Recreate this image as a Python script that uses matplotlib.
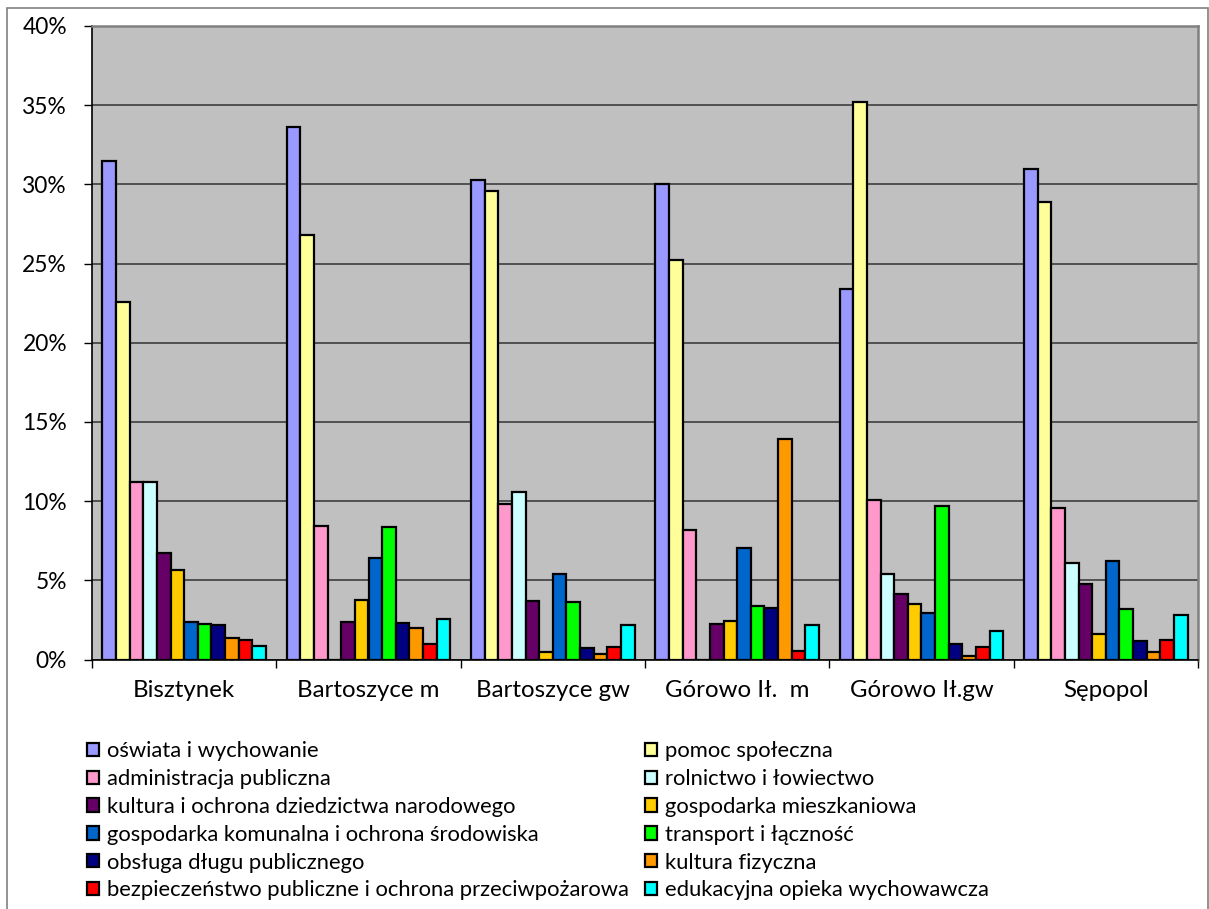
import numpy as np
import matplotlib.pyplot as plt
from matplotlib.patches import Rectangle
from matplotlib.ticker import FuncFormatter

plt.rcParams['font.family'] = ['Lato', 'DejaVu Sans']

gminy = ["Bisztynek", "Bartoszyce m", "Bartoszyce gw", "Górowo Ił.  m", "Górowo Ił.gw", "Sępopol"]

dzialy = ["oświata i wychowanie", "pomoc społeczna",
          "administracja publiczna", "rolnictwo i łowiectwo",
          "kultura i ochrona dziedzictwa narodowego", "gospodarka mieszkaniowa",
          "gospodarka komunalna i ochrona środowiska", "transport i łączność",
          "obsługa długu publicznego", "kultura fizyczna",
          "bezpieczeństwo publiczne i ochrona przeciwpożarowa", "edukacyjna opieka wychowawcza"]

# udział w wydatkach [%], kolejno dla gmin
oswiata      = [31.5, 33.6, 30.3, 30.0, 23.4, 31.0]
pomoc        = [22.6, 26.8, 29.6, 25.2, 35.2, 28.9]
administr    = [11.2, 8.45, 9.8, 8.15, 10.05, 9.55]
rolnictwo    = [11.2, 0.0, 10.6, 0.0, 5.4, 6.1]
kultura      = [6.7, 2.35, 3.7, 2.25, 4.15, 4.75]
mieszkaniowa = [5.65, 3.75, 0.5, 2.4, 3.5, 1.6]
komunalna    = [2.35, 6.4, 5.4, 7.05, 2.95, 6.2]
transport    = [2.25, 8.35, 3.65, 3.4, 9.7, 3.2]
dlug         = [2.15, 2.3, 0.75, 3.25, 0.95, 1.15]
kult_fiz     = [1.35, 2.0, 0.35, 13.9, 0.25, 0.5]
bezpiecz     = [1.2, 1.0, 0.8, 0.55, 0.8, 1.25]
edukacyjna   = [0.85, 2.55, 2.2, 2.15, 1.8, 2.8]

serie = [oswiata, pomoc, administr, rolnictwo, kultura, mieszkaniowa,
         komunalna, transport, dlug, kult_fiz, bezpiecz, edukacyjna]

kolory = ["#9999FF", "#FFFF99", "#FF99CC", "#CCFFFF", "#660066", "#FFCC00",
          "#0066CC", "#00FF00", "#000080", "#FF9900", "#FF0000", "#00FFFF"]

W, H = 1209, 909
fig = plt.figure(figsize=(W / 100, H / 100), dpi=100)
ax = fig.add_axes([92 / W, 1 - 659.5 / H, (1198 - 92) / W, (659.5 - 26) / H])
ax.set_facecolor("#C0C0C0")

n = len(serie)
w = 1 / (n + 1.5)
x = np.arange(len(gminy))
for k, (vals, c) in enumerate(zip(serie, kolory)):
    pos = x + 0.75 * w + k * w + w / 2
    ax.bar(pos, vals, width=w, color=c, edgecolor="black", linewidth=1.6,
           label=dzialy[k], zorder=3)

ax.set_xlim(0, len(gminy))
ax.set_ylim(0, 40)
ax.set_yticks(np.arange(0, 41, 5))
ax.yaxis.set_major_formatter(FuncFormatter(lambda v, p: "%d%%" % v))
ax.grid(axis="y", color="#333333", linewidth=1.1, zorder=1)

ax.set_xticks(np.arange(len(gminy) + 1))
ax.set_xticklabels([])
ax.set_xticks(x + 0.5, minor=True)
ax.set_xticklabels(gminy, minor=True)
ax.tick_params(axis="x", which="major", length=6, width=1, color="black")
ax.tick_params(axis="x", which="minor", length=0, pad=14.5, labelsize=17.3)
ax.tick_params(axis="y", length=6, width=1, labelsize=16.4, pad=12)

for s in ["left", "bottom"]:
    ax.spines[s].set_color("black")
    ax.spines[s].set_linewidth(1.2)
for s in ["top", "right"]:
    ax.spines[s].set_color("#808080")
    ax.spines[s].set_linewidth(1.8)

# legenda: dwie kolumny ułożone wierszami
h, l = ax.get_legend_handles_labels()
kw = dict(loc="upper left", frameon=False, fontsize=15.8, handlelength=0.55,
          handleheight=0.55, handletextpad=0.35, labelspacing=0.36,
          borderpad=0, borderaxespad=0)
leg1 = fig.legend(h[0::2], l[0::2], bbox_to_anchor=(87 / W, 1 - 741 / H), **kw)
leg2 = fig.legend(h[1::2], l[1::2], bbox_to_anchor=(645 / W, 1 - 741 / H), **kw)

fig.patches.append(Rectangle((7 / W, -0.1), (1208 - 7) / W, 1.1 - 8 / H,
                             transform=fig.transFigure, fill=False,
                             edgecolor="#808080", linewidth=1.2))

plt.savefig("out.png", dpi=100)
